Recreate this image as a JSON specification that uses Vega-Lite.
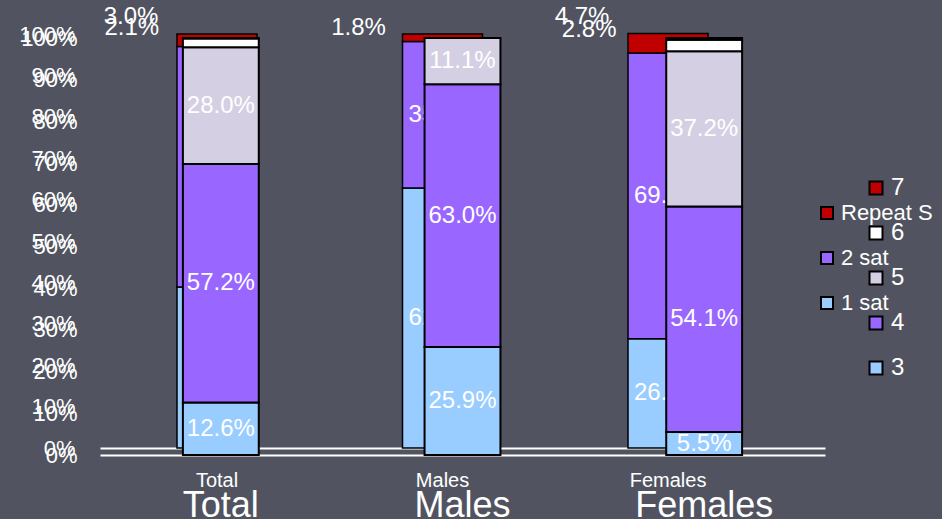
{
  "$schema": "https://vega.github.io/schema/vega-lite/v6.json",
  "width": 725,
  "height": 421,
  "autosize": {"type": "none"},
  "padding": {"left": 100, "top": 34, "right": 117, "bottom": 64},
  "background": "#515460",
  "config": {
    "view": {"stroke": null},
    "font": "Liberation Sans",
    "axis": {"grid": false, "ticks": false, "title": null, "labelColor": "white", "labelOverlap": false, "labelFont": "Liberation Sans"},
    "legend": {"padding": 0, "labelFont": "Liberation Sans"},
    "text": {"font": "Liberation Sans"}
  },
  "datasets": {
    "back": [
      {"g": "Total", "s": "1 sat", "rank": 1, "pct": 0.389},
      {"g": "Total", "s": "2 sat", "rank": 2, "pct": 0.581},
      {"g": "Total", "s": "Repeat S", "rank": 3, "pct": 0.030},
      {"g": "Males", "s": "1 sat", "rank": 1, "pct": 0.628},
      {"g": "Males", "s": "2 sat", "rank": 2, "pct": 0.354},
      {"g": "Males", "s": "Repeat S", "rank": 3, "pct": 0.018},
      {"g": "Females", "s": "1 sat", "rank": 1, "pct": 0.264},
      {"g": "Females", "s": "2 sat", "rank": 2, "pct": 0.690},
      {"g": "Females", "s": "Repeat S", "rank": 3, "pct": 0.047}
    ],
    "front": [
      {"g": "Total", "lvl": 3, "pct": 0.126},
      {"g": "Total", "lvl": 4, "pct": 0.572},
      {"g": "Total", "lvl": 5, "pct": 0.280},
      {"g": "Total", "lvl": 6, "pct": 0.021},
      {"g": "Total", "lvl": 7, "pct": 0.001},
      {"g": "Males", "lvl": 3, "pct": 0.259},
      {"g": "Males", "lvl": 4, "pct": 0.630},
      {"g": "Males", "lvl": 5, "pct": 0.111},
      {"g": "Males", "lvl": 6, "pct": 0.0},
      {"g": "Males", "lvl": 7, "pct": 0.0},
      {"g": "Females", "lvl": 3, "pct": 0.055},
      {"g": "Females", "lvl": 4, "pct": 0.541},
      {"g": "Females", "lvl": 5, "pct": 0.372},
      {"g": "Females", "lvl": 6, "pct": 0.028},
      {"g": "Females", "lvl": 7, "pct": 0.004}
    ]
  },
  "layer": [
    {
      "data": {"name": "back"},
      "encoding": {
        "x": {
          "field": "g", "type": "nominal", "sort": ["Total", "Males", "Females"],
          "scale": {"paddingInner": 0.645, "paddingOuter": 0.43, "align": 0.397},
          "axis": {"orient": "bottom", "offset": -7, "labelAngle": 0, "labelFontSize": 20, "labelPadding": 22, "domainColor": "white", "domainWidth": 2}
        }
      },
      "layer": [
        {
          "mark": {"type": "bar", "stroke": "black", "strokeWidth": 1.5},
          "encoding": {
            "y": {
              "field": "pct", "type": "quantitative", "stack": "zero",
              "scale": {"domain": [-0.0169, 1], "nice": false, "zero": false},
              "axis": {"orient": "left", "values": [0, 0.1, 0.2, 0.3, 0.4, 0.5, 0.6, 0.7, 0.8, 0.9, 1], "format": ".0%", "labelFontSize": 22, "labelPadding": 25, "domain": false}
            },
            "color": {
              "field": "s", "type": "nominal",
              "scale": {"domain": ["Repeat S", "2 sat", "1 sat"], "range": ["#C00000", "#9966FF", "#99CCFF"]},
              "legend": {"orient": "none", "legendX": 716, "legendY": 168, "title": null, "symbolType": "square", "symbolSize": 144, "symbolStrokeColor": "black", "symbolStrokeWidth": 2, "labelColor": "white", "labelFontSize": 22, "labelOffset": 3, "rowPadding": 23}
            },
            "order": {"field": "rank", "type": "quantitative"}
          }
        },
        {
          "transform": [
            {"stack": "pct", "groupby": ["g"], "sort": [{"field": "rank"}], "as": ["v0", "v1"]},
            {"fold": ["v0", "v1"], "as": ["k", "pos"]},
            {"aggregate": [{"op": "mean", "field": "pos", "as": "mid"}], "groupby": ["g", "s", "pct"]},
            {"filter": "datum.pct >= 0.05"}
          ],
          "mark": {"type": "text", "color": "white", "fontSize": 24, "align": "center", "baseline": "middle"},
          "encoding": {
            "y": {"field": "mid", "type": "quantitative"},
            "text": {"field": "pct", "type": "quantitative", "format": ".1%"}
          }
        },
        {
          "transform": [{"filter": "datum.s == 'Repeat S' && datum.g != 'Males'"}],
          "mark": {"type": "text", "color": "white", "fontSize": 24, "align": "center", "baseline": "middle", "dx": -86, "dy": -17},
          "encoding": {
            "y": {"datum": 1, "type": "quantitative"},
            "text": {"field": "pct", "type": "quantitative", "format": ".1%"}
          }
        },
        {
          "transform": [{"filter": "datum.s == 'Repeat S' && datum.g == 'Males'"}],
          "mark": {"type": "text", "color": "white", "fontSize": 24, "align": "center", "baseline": "middle", "dx": -84, "dy": -6},
          "encoding": {
            "y": {"datum": 1, "type": "quantitative"},
            "text": {"field": "pct", "type": "quantitative", "format": ".1%"}
          }
        }
      ]
    },
    {
      "data": {"name": "front"},
      "encoding": {
        "x": {
          "field": "g", "type": "nominal", "sort": ["Total", "Males", "Females"],
          "scale": {"paddingInner": 0.686, "paddingOuter": 0.343},
          "axis": {"orient": "bottom", "labelAngle": 0, "labelFontSize": 36, "labelPadding": 33, "domainColor": "white", "domainWidth": 2}
        }
      },
      "layer": [
        {
          "mark": {"type": "bar", "stroke": "black", "strokeWidth": 2},
          "encoding": {
            "y": {
              "field": "pct", "type": "quantitative", "stack": "zero",
              "scale": {"domain": [0, 1.0096], "nice": false},
              "axis": {"orient": "left", "values": [0, 0.1, 0.2, 0.3, 0.4, 0.5, 0.6, 0.7, 0.8, 0.9, 1], "format": ".0%", "labelFontSize": 22, "labelPadding": 23, "domain": false}
            },
            "color": {
              "field": "lvl", "type": "nominal",
              "scale": {"domain": [7, 6, 5, 4, 3], "range": ["#C00000", "#FFFFFF", "#D5CFE3", "#9966FF", "#99CCFF"]},
              "legend": {"orient": "none", "legendX": 764, "legendY": 142, "title": null, "symbolType": "square", "symbolSize": 169, "symbolStrokeColor": "black", "symbolStrokeWidth": 2, "labelColor": "white", "labelFontSize": 24, "labelOffset": 3, "rowPadding": 21}
            },
            "order": {"field": "lvl", "type": "quantitative"}
          }
        },
        {
          "transform": [
            {"stack": "pct", "groupby": ["g"], "sort": [{"field": "lvl"}], "as": ["v0", "v1"]},
            {"fold": ["v0", "v1"], "as": ["k", "pos"]},
            {"aggregate": [{"op": "mean", "field": "pos", "as": "mid"}], "groupby": ["g", "lvl", "pct"]},
            {"filter": "datum.pct >= 0.05"}
          ],
          "mark": {"type": "text", "color": "white", "fontSize": 24, "align": "center", "baseline": "middle", "clip": true},
          "encoding": {
            "y": {"field": "mid", "type": "quantitative"},
            "text": {"field": "pct", "type": "quantitative", "format": ".1%"}
          }
        },
        {
          "transform": [{"filter": "datum.lvl == 6 && datum.g == 'Total'"}],
          "mark": {"type": "text", "color": "white", "fontSize": 24, "align": "center", "baseline": "middle", "dx": -89, "dy": -10},
          "encoding": {
            "y": {"datum": 1, "type": "quantitative"},
            "text": {"field": "pct", "type": "quantitative", "format": ".1%"}
          }
        },
        {
          "transform": [{"filter": "datum.lvl == 6 && datum.g == 'Females'"}],
          "mark": {"type": "text", "color": "white", "fontSize": 24, "align": "center", "baseline": "middle", "dx": -115, "dy": -8},
          "encoding": {
            "y": {"datum": 1, "type": "quantitative"},
            "text": {"field": "pct", "type": "quantitative", "format": ".1%"}
          }
        }
      ]
    }
  ],
  "resolve": {
    "scale": {"x": "independent", "y": "independent", "color": "independent"},
    "axis": {"x": "independent", "y": "independent"},
    "legend": {"color": "independent"}
  }
}
